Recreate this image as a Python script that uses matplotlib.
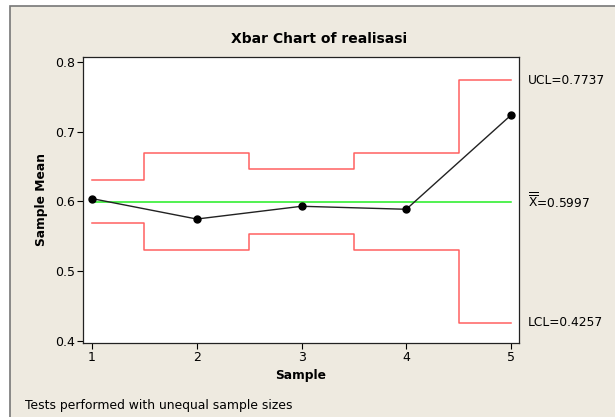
import numpy as np
import matplotlib
matplotlib.use("Agg")
import matplotlib.pyplot as plt
from matplotlib.patches import Rectangle

# Xbar chart values
samples = [1, 2, 3, 4, 5]
sample_means = [0.604, 0.5747, 0.593, 0.5887, 0.7237]
ucl = [0.6303, 0.6695, 0.646, 0.6695, 0.7737]
lcl = [0.5696, 0.5299, 0.5534, 0.5299, 0.4257]
center = 0.5997
yticks = [0.4, 0.5, 0.6, 0.7, 0.8]

bg = '#EEEAE0'
red = '#FF6060'
green = '#22EE22'

fig = plt.figure(figsize=(6.15, 4.17), dpi=100, facecolor='white')
plt.rcParams['font.family'] = ['DejaVu Sans']

# beige panel with grey frame, as in the Minitab window
panel = Rectangle((10 / 615, -0.05), 1.1, 1 - 6 / 417 + 0.05,
                  transform=fig.transFigure, facecolor=bg,
                  edgecolor='#777777', linewidth=1.2, zorder=-10)
fig.add_artist(panel)

ax = fig.add_axes([83 / 615, 1 - 343 / 417, 436 / 615, 286 / 417])
ax.set_zorder(5)
ax.set_facecolor('white')

ax.step(samples, ucl, where='mid', color=red, linewidth=1.1)
ax.step(samples, lcl, where='mid', color=red, linewidth=1.1)
ax.plot([samples[0], samples[-1]], [center, center], color=green, linewidth=1.1)
ax.plot(samples, sample_means, color='#222222', linewidth=1.0,
        marker='o', markersize=5, markerfacecolor='black', markeredgecolor='black')

ax.set_xlim(0.914, 5.076)
ax.set_ylim(0.397, 0.807)
ax.set_xticks(samples)
ax.set_yticks(yticks)
ax.set_yticklabels([f'{v:.1f}' for v in yticks])
ax.tick_params(direction='out', length=4, width=0.8, labelsize=9, pad=2)
for s in ax.spines.values():
    s.set_color('#222222')
    s.set_linewidth(0.9)

# title sits a bit right of the plot centre in the original
ax.text(0.541, 1.063, 'Xbar Chart of realisasi', transform=ax.transAxes,
        fontsize=10, fontweight='bold', ha='center', va='center')
ax.set_xlabel('Sample', fontsize=8.8, fontweight='bold', labelpad=3)
ax.set_ylabel('Sample Mean', fontsize=8.8, fontweight='bold', labelpad=5)

# control limit labels to the right of the plot
lab_kw = dict(transform=ax.get_yaxis_transform(), fontsize=8.8, va='center', ha='left')
ax.text(1.02, ucl[-1], f'UCL={ucl[-1]:.4f}', **lab_kw)
ax.text(1.02, center, r'$\overline{\overline{\mathrm{X}}}$' + f'={center:.4f}', **lab_kw)
ax.text(1.02, lcl[-1], f'LCL={lcl[-1]:.4f}', **lab_kw)

fig.text(25 / 615, 1 - 405 / 417, 'Tests performed with unequal sample sizes',
         fontsize=8.9, va='center', ha='left')

fig.savefig('out.png', dpi=100, facecolor=fig.get_facecolor())
